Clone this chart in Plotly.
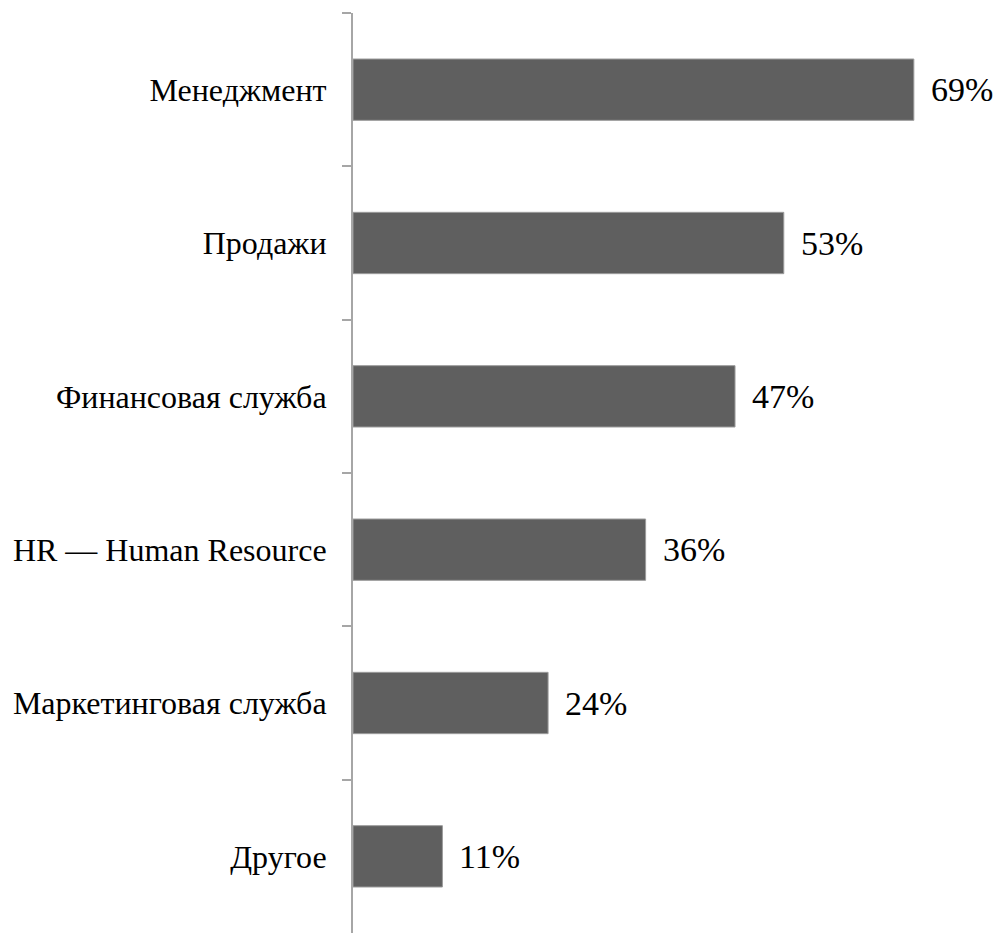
import plotly.graph_objects as go

# Доля ответов по подразделениям, %
categories = [
    "Менеджмент",
    "Продажи",
    "Финансовая служба",
    "HR — Human Resource",
    "Маркетинговая служба",
    "Другое",
]
values = [69, 53, 47, 36, 24, 11]

FONT = "Times New Roman, Liberation Serif, DejaVu Serif, serif"
AXIS_GREY = "#a6a6a6"

fig = go.Figure(
    go.Bar(
        x=values,
        y=categories,
        orientation="h",
        marker=dict(color="#5f5f5f", line=dict(color="#9c9c9c", width=1)),
        hoverinfo="skip",
    )
)

for cat, val in zip(categories, values):
    fig.add_annotation(
        x=val, y=cat, text=f"{val}%", showarrow=False,
        xanchor="left", yanchor="middle", xshift=15,
        font=dict(family=FONT, size=34, color="#000000"),
    )

fig.update_layout(
    width=996, height=933,
    margin=dict(l=353, r=9, t=13, b=0),
    paper_bgcolor="white", plot_bgcolor="white",
    bargap=0.6,
    showlegend=False,
    font=dict(family=FONT, size=32, color="#000000"),
)

fig.update_xaxes(
    range=[0, 78], visible=False, showgrid=False, zeroline=False,
)
fig.update_yaxes(
    categoryorder="array", categoryarray=categories, autorange="reversed",
    showline=True, linecolor=AXIS_GREY, linewidth=2,
    ticks="outside", tickson="boundaries", ticklen=9, tickwidth=2, tickcolor=AXIS_GREY,
    ticklabelstandoff=18,
    showgrid=False, zeroline=False,
    tickfont=dict(family=FONT, size=32, color="#000000"),
)

fig.write_html("out.html")
